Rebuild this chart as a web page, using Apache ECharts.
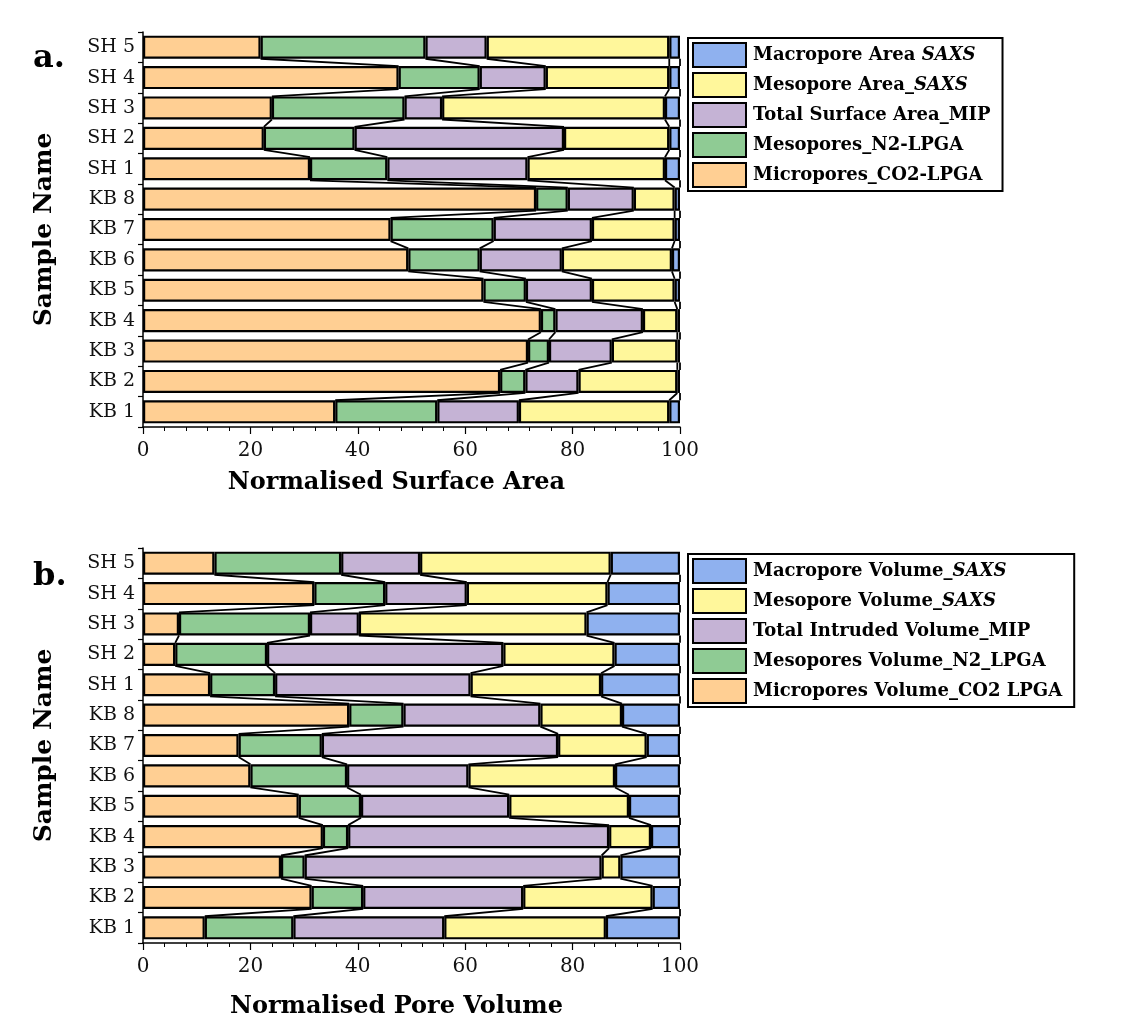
<!DOCTYPE html>
<html>
<head>
<meta charset="utf-8">
<script src="https://cdn.jsdelivr.net/npm/echarts@6/dist/echarts.min.js"></script>
<style>
  html, body { margin: 0; padding: 0; background: #fff; }
  #chart { width: 1126px; height: 1036px; }
</style>
</head>
<body>
<div id="chart"></div>
<script>
// Sample names, bottom to top
const samples = ['KB 1', 'KB 2', 'KB 3', 'KB 4', 'KB 5', 'KB 6', 'KB 7', 'KB 8', 'SH 1', 'SH 2', 'SH 3', 'SH 4', 'SH 5'];
const xTicks = [0, 20, 40, 60, 80, 100];

// Panel a: normalised surface area (%)
const areaMicroCO2   = [35.8, 66.5, 71.7, 74.1, 63.4, 49.4, 46.1, 73.2, 31.1, 22.5, 24.0, 47.6, 21.9];
const areaMesoN2     = [19.0,  4.7,  3.9,  2.7,  7.9, 13.3, 19.2,  5.9, 14.4, 16.9, 24.7, 15.1, 30.7];
const areaTotalMIP   = [15.2,  9.9, 11.7, 16.3, 12.3, 15.3, 18.3, 12.3, 26.1, 39.0,  7.0, 12.3, 11.4];
const areaMesoSAXS   = [28.0, 18.4, 12.2,  6.4, 15.4, 20.5, 15.4,  7.6, 25.6, 19.6, 41.5, 23.0, 34.0];
const areaMacroSAXS  = [ 2.0,  0.5,  0.5,  0.5,  1.0,  1.5,  1.0,  1.0,  2.8,  2.0,  2.8,  2.0,  2.0];

// Panel b: normalised pore volume (%)
const volMicroCO2    = [11.5, 31.4, 25.7, 33.5, 29.0, 20.0, 17.8, 38.4, 12.5,  6.0,  6.7, 31.9, 13.3];
const volMesoN2      = [16.5,  9.6,  4.4,  4.7, 11.6, 18.0, 15.5, 10.1, 12.1, 17.1, 24.4, 13.2, 23.6];
const volIntrudedMIP = [28.1, 29.8, 55.3, 48.6, 27.6, 22.6, 44.0, 25.5, 36.4, 44.0,  9.1, 15.2, 14.7];
const volMesoSAXS    = [30.1, 24.1,  3.5,  7.8, 22.3, 27.3, 16.5, 15.2, 24.3, 20.7, 42.4, 26.2, 35.5];
const volMacroSAXS   = [13.8,  5.1, 11.1,  5.4,  9.5, 12.1,  6.2, 10.8, 14.7, 12.2, 17.4, 13.5, 12.9];

const namesA = ['Micropores_CO2-LPGA', 'Mesopores_N2-LPGA', 'Total Surface Area_MIP', 'Mesopore Area_SAXS', 'Macropore Area SAXS'];
const namesB = ['Micropores Volume_CO2 LPGA', 'Mesopores Volume_N2_LPGA', 'Total Intruded Volume_MIP', 'Mesopore Volume_SAXS', 'Macropore Volume_SAXS'];
const colors = ['#FFCF93', '#8FCB94', '#C5B3D5', '#FFF79B', '#8FB1EF'];

const FONT = 'DejaVu Serif';
const BAR_FRAC = 0.76;

function stackedBars(names, arrays, axisIndex, stackId) {
  return arrays.map((arr, k) => ({
    type: 'bar',
    name: names[k],
    stack: stackId,
    xAxisIndex: axisIndex,
    yAxisIndex: axisIndex,
    barWidth: (BAR_FRAC * 100) + '%',
    data: arr,
    z: 3,
    itemStyle: { color: colors[k], borderColor: '#000', borderWidth: 2.2 },
    emphasis: { disabled: true }
  }));
}

// Excel-style series lines joining segment boundaries of neighbouring bars
function seriesLines(arrays, axisIndex) {
  const cum = samples.map((_, i) => {
    let s = 0;
    return arrays.map(a => (s += a[i]));
  });
  return {
    type: 'custom',
    xAxisIndex: axisIndex,
    yAxisIndex: axisIndex,
    silent: true,
    z: 2,
    data: samples.slice(0, -1).map((_, i) => [0, i]),
    encode: { x: 0, y: 1 },
    renderItem: function (params, api) {
      const i = params.dataIndex;
      const band = api.size([0, 1])[1];
      const half = band * BAR_FRAC / 2;
      const children = [];
      for (let k = 0; k < arrays.length; k++) {
        const p0 = api.coord([cum[i][k], i]);
        const p1 = api.coord([cum[i + 1][k], i + 1]);
        children.push({
          type: 'line',
          shape: { x1: p0[0], y1: p0[1] - half, x2: p1[0], y2: p1[1] + half },
          style: { stroke: '#000', lineWidth: 1.8 }
        });
      }
      return { type: 'group', children: children };
    }
  };
}

function xAxis(gridIndex, title, gap) {
  return {
    type: 'value',
    gridIndex: gridIndex,
    min: xTicks[0],
    max: xTicks[xTicks.length - 1],
    interval: xTicks[1] - xTicks[0],
    name: title,
    nameLocation: 'middle',
    nameGap: gap,
    nameTextStyle: { fontFamily: FONT, fontWeight: 'bold', fontSize: 24, color: '#000', padding: [0, 30, 0, 0] },
    axisLine: { show: true, lineStyle: { color: '#000', width: 1.5 } },
    axisTick: { show: true, length: 7, lineStyle: { color: '#000', width: 1.2 } },
    minorTick: { show: true, splitNumber: 5, length: 4, lineStyle: { color: '#000', width: 1 } },
    axisLabel: { fontFamily: FONT, fontSize: 20, color: '#111', margin: 14 },
    splitLine: { show: false }
  };
}

function yAxis(gridIndex) {
  return {
    type: 'category',
    gridIndex: gridIndex,
    data: samples,
    name: 'Sample Name',
    nameLocation: 'middle',
    nameGap: 86,
    nameRotate: 90,
    nameTextStyle: { fontFamily: FONT, fontWeight: 'bold', fontSize: 25, color: '#000' },
    axisLine: { show: true, lineStyle: { color: '#000', width: 1.5 } },
    axisTick: { show: true, length: 5, lineStyle: { color: '#000', width: 1.2 } },
    axisLabel: { fontFamily: FONT, fontSize: 19, color: '#111', margin: 8 }
  };
}

// Legend labels: the "SAXS" suffix is set in italics
function legendLabel(name) {
  const m = name.match(/^(.*?)(SAXS)$/);
  if (m) return '{n|' + m[1] + '}{i|' + m[2] + '}';
  return '{n|' + name + '}';
}

function legend(names, top) {
  const txt = { fontFamily: FONT, fontWeight: 'bold', fontSize: 18, color: '#000', lineHeight: 24 };
  return {
    orient: 'vertical',
    left: 688,
    top: top,
    data: names.slice().reverse(),
    icon: 'rect',
    itemWidth: 53,
    itemHeight: 24,
    itemGap: 4,
    padding: [4, 12, 3, 4],
    borderColor: '#000',
    borderWidth: 2,
    selectedMode: false,
    itemStyle: { borderColor: '#000', borderWidth: 2 },
    formatter: legendLabel,
    textStyle: {
      fontFamily: FONT, fontWeight: 'bold', fontSize: 18, color: '#000', lineHeight: 24, padding: [0, 0, 0, 2],
      rich: { n: txt, i: Object.assign({}, txt, { fontStyle: 'italic' }) }
    }
  };
}

const arraysA = [areaMicroCO2, areaMesoN2, areaTotalMIP, areaMesoSAXS, areaMacroSAXS];
const arraysB = [volMicroCO2, volMesoN2, volIntrudedMIP, volMesoSAXS, volMacroSAXS];

const chart = echarts.init(document.getElementById('chart'), null, { renderer: 'canvas' });
chart.setOption({
  backgroundColor: '#fff',
  animation: false,
  title: [
    { text: 'a.', left: 28, top: 38, textStyle: { fontFamily: FONT, fontWeight: 'bold', fontSize: 32, color: '#000' } },
    { text: 'b.', left: 28, top: 556, textStyle: { fontFamily: FONT, fontWeight: 'bold', fontSize: 32, color: '#000' } }
  ],
  grid: [
    { left: 143, width: 537, top: 32, height: 395 },
    { left: 143, width: 537, top: 548, height: 395 }
  ],
  xAxis: [xAxis(0, 'Normalised Surface Area', 44), xAxis(1, 'Normalised Pore Volume', 52)],
  yAxis: [yAxis(0), yAxis(1)],
  legend: [legend(namesA, 38), legend(namesB, 554)],
  series: [
    ...stackedBars(namesA, arraysA, 0, 'area'),
    seriesLines(arraysA, 0),
    ...stackedBars(namesB, arraysB, 1, 'volume'),
    seriesLines(arraysB, 1)
  ]
});
</script>
</body>
</html>
